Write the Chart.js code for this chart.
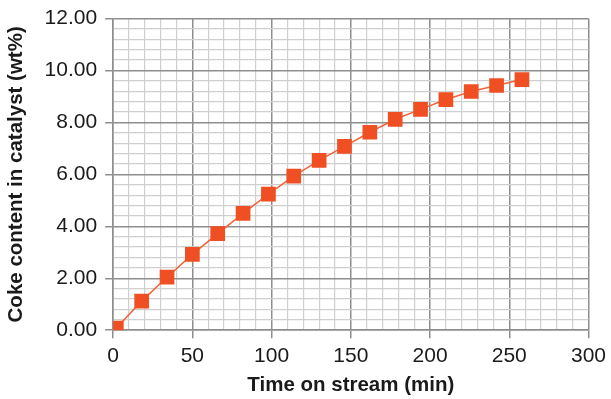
<!DOCTYPE html>
<html>
<head>
<meta charset="utf-8">
<script src="https://cdn.jsdelivr.net/npm/chart.js@4"></script>
<style>
  html, body { margin: 0; padding: 0; background: #fff; }
  #wrap { width: 611px; height: 399px; }
</style>
</head>
<body>
<div id="wrap"><canvas id="chart" width="611" height="399"></canvas></div>
<script>
// time on stream (min) and coke content (wt%)
var timeMin = [2, 18, 34, 50, 66, 82, 98, 114, 130, 146, 162, 178, 194, 210, 226, 242, 258];
var cokeWt = [0.08, 1.12, 2.04, 2.92, 3.72, 4.50, 5.24, 5.93, 6.54, 7.08, 7.62, 8.12, 8.50, 8.88, 9.19, 9.42, 9.65];

var xTitle = 'Time on stream (min)';
var yTitle = 'Coke content in catalyst (wt%)';

var points = timeMin.map(function (t, i) { return { x: t, y: cokeWt[i] }; });

function isMajor(v, step) {
  var r = v / step;
  return Math.abs(r - Math.round(r)) < 1e-6;
}

var majorColor = '#8e8e8e';
var minorColor = '#cfcfcf';
var fontFam = '"Liberation Sans", Arial, sans-serif';

var config = {
  type: 'line',
  data: {
    datasets: [{
      data: points,
      borderColor: '#f2643a',
      borderWidth: 1.5,
      backgroundColor: '#f04e23',
      pointStyle: 'rect',
      pointRadius: 10.4,
      pointBorderWidth: 0,
      pointBackgroundColor: '#f04e23',
      tension: 0
    }]
  },
  options: {
    responsive: false,
    animation: false,
    layout: { padding: { top: 4, right: 0, left: 4, bottom: 1 } },
    plugins: {
      legend: { display: false },
      tooltip: { enabled: false }
    },
    scales: {
      x: {
        type: 'linear',
        min: 0,
        max: 300,
        ticks: {
          stepSize: 10,
          autoSkip: false,
          maxRotation: 0,
          color: '#1a1a1a',
          font: { family: fontFam, size: 21 },
          padding: 5,
          callback: function (v) { return isMajor(v, 50) ? String(v) : ''; }
        },
        grid: {
          color: function (c) { return isMajor(c.tick.value, 50) ? majorColor : minorColor; },
          lineWidth: function (c) { return isMajor(c.tick.value, 50) ? 1.5 : 1.2; },
          tickColor: function (c) { return isMajor(c.tick.value, 50) ? majorColor : 'rgba(0,0,0,0)'; },
          tickLength: 8
        },
        border: { color: majorColor, width: 1.5 },
        title: {
          display: true,
          text: xTitle,
          color: '#1a1a1a',
          font: { family: fontFam, size: 20.5, weight: 'bold' },
          padding: { top: 0, bottom: 0 }
        }
      },
      y: {
        type: 'linear',
        min: 0,
        max: 12,
        ticks: {
          stepSize: 0.4,
          autoSkip: false,
          color: '#1a1a1a',
          font: { family: fontFam, size: 21, lineHeight: 1 },
          padding: 8,
          callback: function (v) { return isMajor(v, 2) ? Number(v).toFixed(2) : ''; }
        },
        grid: {
          color: function (c) { return isMajor(c.tick.value, 2) ? majorColor : minorColor; },
          lineWidth: function (c) { return isMajor(c.tick.value, 2) ? 1.5 : 1.2; },
          tickColor: function (c) { return isMajor(c.tick.value, 2) ? majorColor : 'rgba(0,0,0,0)'; },
          tickLength: 8
        },
        border: { color: majorColor, width: 1.5 },
        title: {
          display: true,
          text: yTitle,
          color: '#1a1a1a',
          font: { family: fontFam, size: 20.5, weight: 'bold' },
          padding: { top: 0, bottom: 8 }
        }
      }
    }
  }
};

var myChart = new Chart(document.getElementById('chart'), config);
</script>
</body>
</html>
